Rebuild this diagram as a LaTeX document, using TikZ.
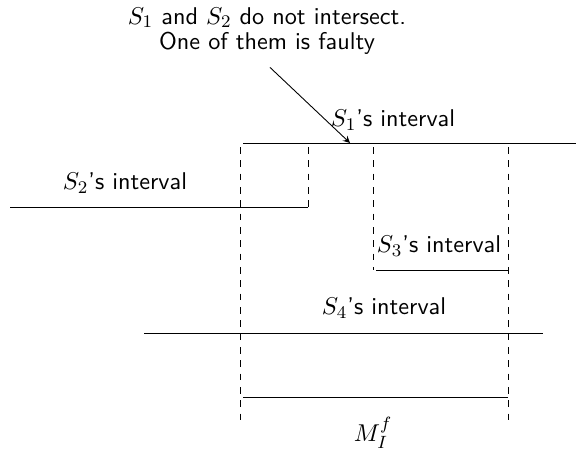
\documentclass[tikz,border=0pt]{standalone}
\usetikzlibrary{positioning}
\begin{document}
\begin{tikzpicture}[x=0.45pt,y=-0.45pt,>=stealth,font=\sffamily\fontsize{10.9pt}{11.4pt}\selectfont]
    \tikzstyle{interval}=[draw]
    \tikzstyle{bound}=[draw, dashed]
    \useasboundingbox (0,0) rectangle (576,451);
    % interval ends
    \coordinate (s1a) at (243,143); \coordinate (s1b) at (576,143);
    \coordinate (s2a) at (10,207);  \coordinate (s2b) at (308,207);
    \coordinate (s3a) at (376,270); \coordinate (s3b) at (508,270);
    \coordinate (s4a) at (144,333); \coordinate (s4b) at (543,333);
    \coordinate (ma) at (243,397);  \coordinate (mb) at (508,397);
    \coordinate (hit) at (350,143);
    % intervals
    \path[interval] (s1a) -- (s1b);
    \path[interval] (s2a) -- (s2b);
    \path[interval] (s3a) -- (s3b);
    \path[interval] (s4a) -- (s4b);
    \path[interval] (ma) -- (mb);
    % bounds
    \path[bound] (240,147) -- (240,420);
    \path[bound] (308,147) -- (s2b);
    \path[bound] (373,147) -- (373,270);
    \path[bound] (508,147) -- (508,420);
    % labels
    \node (l1) at (393,120) {$S_1$'s interval};
    \node (l2) at (125,183) {$S_2$'s interval};
    \node (l3) at (439,246) {$S_3$'s interval};
    \node (l4) at (384,308) {$S_4$'s interval};
    \node (lm) at (373,433) {$M_I^f$};
    \node[align=center] (note) at (267,31) {$S_1$ and $S_2$ do not intersect.\\One of them is faulty};
    \draw[->] (note.south) ++(3,5) -- (hit);
\end{tikzpicture}
\end{document}
